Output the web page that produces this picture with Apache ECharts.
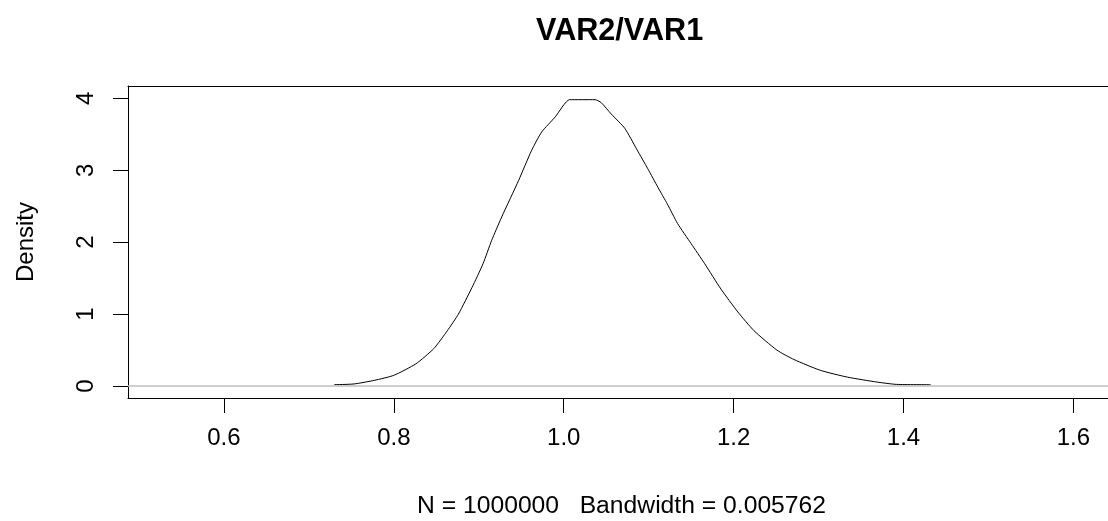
<!DOCTYPE html>
<html>
<head>
<meta charset="utf-8">
<script src="https://cdn.jsdelivr.net/npm/echarts@6/dist/echarts.min.js"></script>
<style>
html,body{margin:0;padding:0;background:#fff;}
#chart{width:1108px;height:521px;}
</style>
</head>
<body>
<div id="chart"></div>
<script>
// Density estimate of VAR2/VAR1
var xValues = [0.730, 0.753, 0.777, 0.800, 0.826, 0.847, 0.863, 0.876, 0.892, 0.905, 0.915, 0.927,
  0.947, 0.962, 0.974, 0.990, 1.007, 1.037, 1.044, 1.056, 1.072, 1.086, 1.099, 1.111, 1.122,
  1.134, 1.150, 1.166, 1.185, 1.205, 1.224, 1.251, 1.271, 1.302, 1.334, 1.369, 1.392, 1.432];
var densityValues = [0.02, 0.03, 0.08, 0.15, 0.31, 0.52, 0.77, 1.00, 1.37, 1.70, 2.02, 2.35,
  2.86, 3.27, 3.53, 3.74, 3.98, 3.98, 3.94, 3.78, 3.58, 3.29, 3.02, 2.76, 2.53,
  2.26, 1.98, 1.70, 1.35, 1.03, 0.77, 0.50, 0.37, 0.22, 0.125, 0.056, 0.024, 0.02];
var xTickValues = [0.6, 0.8, 1.0, 1.2, 1.4, 1.6];
var yTickValues = [0, 1, 2, 3, 4];
var titleText = 'VAR2/VAR1';
var subText = 'N = 1000000   Bandwidth = 0.005762';
var yName = 'Density';

var seriesData = xValues.map(function (x, i) { return [x, densityValues[i]]; });
var FONT = '"Liberation Sans", Arial, sans-serif';
var X_MIN = 0.4871, X_MAX = 1.6407;

var chart = echarts.init(document.getElementById('chart'), null, {renderer: 'canvas'});
chart.setOption({
  animation: false,
  backgroundColor: '#ffffff',
  title: [
    {text: titleText, left: 531, top: 11,
     textStyle: {fontFamily: FONT, fontSize: 30.6, fontWeight: 'bold', color: '#000'}},
    {text: subText, left: 412, top: 489,
     textStyle: {fontFamily: FONT, fontSize: 24.7, fontWeight: 'normal', color: '#000'}}
  ],
  grid: {left: 128, top: 86, width: 984, height: 312, show: false},
  xAxis: [{
    type: 'value', min: X_MIN, max: X_MAX, position: 'bottom',
    axisLine: {show: true, onZero: false, lineStyle: {color: '#000', width: 1}},
    axisTick: {show: true, inside: false, length: 15, customValues: xTickValues,
               lineStyle: {color: '#000', width: 1}},
    axisLabel: {show: true, margin: 28, customValues: xTickValues, color: '#000',
                fontFamily: FONT, fontSize: 24,
                formatter: function (v) { return v.toFixed(1); }},
    splitLine: {show: false}
  }, {
    type: 'value', min: X_MIN, max: X_MAX, position: 'top',
    axisLine: {show: true, onZero: false, lineStyle: {color: '#000', width: 1}},
    axisTick: {show: false}, axisLabel: {show: false}, splitLine: {show: false}
  }],
  yAxis: {
    type: 'value', min: -0.165, max: 4.17,
    name: yName, nameLocation: 'middle', nameGap: 90, nameRotate: 90,
    nameTextStyle: {fontFamily: FONT, fontSize: 24, color: '#000'},
    axisLine: {show: true, onZero: false, lineStyle: {color: '#000', width: 1}},
    axisTick: {show: true, inside: false, length: 15, customValues: yTickValues,
               lineStyle: {color: '#000', width: 1}},
    axisLabel: {show: true, margin: 30, rotate: 90, customValues: yTickValues, color: '#000',
                fontFamily: FONT, fontSize: 24},
    splitLine: {show: false}
  },
  series: [{
    type: 'line', data: seriesData, showSymbol: false, symbol: 'none',
    xAxisIndex: 0,
    lineStyle: {color: '#000', width: 1}, smooth: 0.2,
    markLine: {silent: true, symbol: 'none', label: {show: false},
               lineStyle: {color: '#bebebe', type: 'solid', width: 1.5},
               data: [{yAxis: 0}]}
  }]
});
</script>
</body>
</html>
